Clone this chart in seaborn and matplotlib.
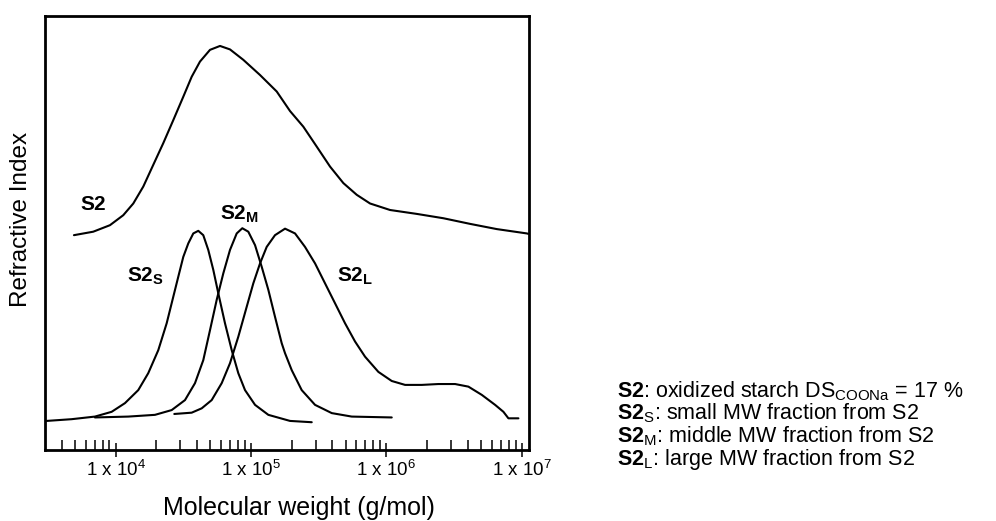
import numpy as np
import pandas as pd
import matplotlib
matplotlib.use("Agg")
import matplotlib.pyplot as plt
import matplotlib.ticker as mticker
import seaborn as sns

# ---- data (molecular weight in g/mol, refractive index signal in arbitrary units) ----
s2_mw = [4918, 6829, 9076, 11380, 13500, 16000, 18960, 22480, 26650, 31600, 36450,
         41980, 49770, 59020, 69950, 87730, 116600, 154900, 194200, 243500, 305900,
         383700, 481100, 604200, 757700, 1065000, 1678000, 2639000, 4156000, 6546000,
         10910000, 11200000]
s2_ri = [49.5, 50.3, 51.8, 54.1, 56.8, 60.7, 65.7, 70.7, 76.0, 81.4, 86.0,
         89.5, 92.2, 93.1, 92.3, 89.9, 86.4, 82.6, 78.1, 74.5, 69.9,
         65.3, 61.5, 58.8, 56.8, 55.3, 54.4, 53.4, 52.1, 50.9,
         49.9, 49.8]

s2s_mw = [3090, 4729, 7031, 9342, 11716, 14690, 17410, 20650, 23820, 26650, 29010,
          31600, 34400, 37460, 40790, 44400, 48340, 52650, 57330, 64240, 72030,
          80560, 90300, 107100, 134300, 194200, 281000]
s2s_ri = [6.7, 7.1, 7.7, 8.8, 10.8, 13.8, 17.7, 23.0, 29.2, 35.3, 39.9,
          44.5, 47.6, 49.9, 50.5, 49.5, 46.1, 41.5, 36.1, 29.2, 23.0,
          17.7, 13.8, 10.4, 8.1, 6.7, 6.4]

s2m_mw = [7031, 12390, 19520, 25940, 32530, 38560, 44400, 49770, 55790, 62420, 69950,
          78410, 86250, 95500, 107100, 120000, 134300, 150400, 168600, 178400, 199900,
          236900, 297200, 395000, 555100, 1096000]
s2m_ri = [7.5, 7.7, 8.1, 9.2, 11.5, 15.4, 20.7, 27.6, 34.6, 40.7, 46.1,
          49.9, 51.1, 50.3, 47.2, 42.2, 36.9, 30.7, 24.6, 22.3, 18.4,
          13.8, 10.4, 8.5, 7.7, 7.5]

s2l_mw = [27110, 36450, 43220, 51230, 60740, 69950, 80560, 92940, 104000, 116600,
          130600, 150400, 178400, 211500, 250600, 297200, 352300, 417700, 495100,
          586900, 695900, 872800, 1096000, 1375000, 1827000, 2423000, 3219000,
          4038000, 5071000, 6359000, 7325000, 7975000, 9454000]
s2l_ri = [8.3, 8.6, 9.6, 11.5, 15.4, 20.0, 26.1, 33.0, 38.4, 43.0,
          46.8, 49.5, 51.0, 49.9, 46.8, 43.0, 38.4, 33.8, 29.2,
          25.0, 21.5, 18.0, 15.9, 15.0, 15.0, 15.2, 15.2,
          14.6, 12.7, 10.4, 8.8, 7.3, 7.3]

major_ticks = [1e4, 1e5, 1e6, 1e7]
major_exps = [4, 5, 6, 7]
x_label = "Molecular weight (g/mol)"
y_label = "Refractive Index"

legend_lines = [
    r"$\mathbf{S2}$: oxidized starch DS$_{\mathrm{COONa}}$ = 17 %",
    r"$\mathbf{S2}_{\mathrm{S}}$: small MW fraction from S2",
    r"$\mathbf{S2}_{\mathrm{M}}$: middle MW fraction from S2",
    r"$\mathbf{S2}_{\mathrm{L}}$: large MW fraction from S2",
]

# ---- style ----
sns.set_theme(style="white")
plt.rcParams["font.family"] = ["Liberation Sans", "DejaVu Sans"]
plt.rcParams["mathtext.fontset"] = "custom"
plt.rcParams["mathtext.rm"] = "Liberation Sans"
plt.rcParams["mathtext.sf"] = "Liberation Sans"
plt.rcParams["mathtext.it"] = "Liberation Sans:italic"
plt.rcParams["mathtext.bf"] = "Liberation Sans:bold"
plt.rcParams["text.color"] = "black"

fig = plt.figure(figsize=(9.96, 5.21), dpi=100)
ax = fig.add_axes([45 / 996, 1 - 450 / 521, 484 / 996, 434 / 521])

curves = [(s2_mw, s2_ri), (s2s_mw, s2s_ri), (s2m_mw, s2m_ri), (s2l_mw, s2l_ri)]
for mw, ri in curves:
    sns.lineplot(x=mw, y=ri, ax=ax, color="black", linewidth=1.5,
                 sort=False, estimator=None)

ax.set_xscale("log")
ax.set_xlim(3006, 1.132e7)
ax.set_ylim(0, 100)

# ticks
ax.xaxis.set_major_locator(mticker.FixedLocator(major_ticks))
ax.xaxis.set_major_formatter(mticker.FixedFormatter(
    [r"$\mathrm{1\ x\ 10^{%d}}$" % e for e in major_exps]))
ax.xaxis.set_minor_locator(mticker.LogLocator(base=10, subs=np.arange(2, 10)))
ax.xaxis.set_minor_formatter(mticker.NullFormatter())
ax.tick_params(axis="x", which="major", direction="inout", length=10, width=1.1,
               color="black", labelsize=13.5, pad=2, labelcolor="black", bottom=True)
ax.tick_params(axis="x", which="minor", direction="in", length=7, width=1.1,
               color="black", bottom=True)
ax.set_yticks([])

for sp in ax.spines.values():
    sp.set_linewidth(2)
    sp.set_color("black")
    sp.set_visible(True)

ax.set_xlabel(x_label, fontsize=18, color="black")
ax.set_ylabel(y_label, fontsize=17.5, color="black")
ax.xaxis.set_label_coords(0.525, -0.105)
ax.yaxis.set_label_coords(-0.027, 0.532)

# curve labels
ax.text(5450, 55.3, r"$\mathbf{S2}$", fontsize=15, ha="left", va="baseline")
ax.text(12120, 38.7, r"$\mathbf{S2_{S}}$", fontsize=15, ha="left", va="baseline")
ax.text(59000, 53.0, r"$\mathbf{S2_{M}}$", fontsize=15, ha="left", va="baseline")
ax.text(432000, 38.7, r"$\mathbf{S2_{L}}$", fontsize=15, ha="left", va="baseline")

# description block
for i, line in enumerate(legend_lines):
    fig.text(617 / 996, 1 - (397 + 22.7 * i) / 521, line, fontsize=15.5,
             ha="left", va="baseline", color="black")

fig.savefig("out.png", dpi=100, facecolor="white")
